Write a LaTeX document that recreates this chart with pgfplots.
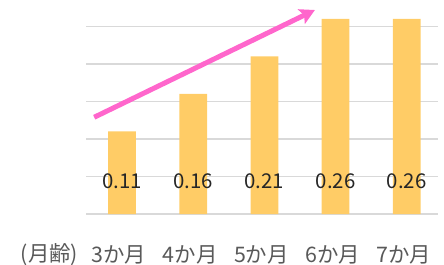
\documentclass[border=0pt]{standalone}
\usepackage{fontspec}
\usepackage{pgfplots}
\pgfplotsset{compat=1.18}
\usepackage{pgfplotstable}
\usetikzlibrary{arrows.meta}
\newfontfamily\jp{Noto Sans CJK JP}
\setmainfont{Noto Sans CJK JP}
\definecolor{barc}{HTML}{FFCC66}
\definecolor{arrowc}{HTML}{FF66CC}
\definecolor{gridc}{HTML}{D9D9D9}
\definecolor{labc}{HTML}{595959}
\pgfplotstableread{
x y
0 0.11
1 0.16
2 0.21
3 0.26
4 0.26
}\datatable
\begin{document}
\begin{tikzpicture}
\useasboundingbox (-86.4bp,-51bp) rectangle (357.6bp,214bp);
\begin{axis}[
  scale only axis,
  width=351.7bp, height=214bp,
  xmin=-0.5, xmax=4.44,
  ymin=0, ymax=0.28533,
  axis line style={draw=none},
  tick style={draw=none},
  ytick={0,0.05,0.1,0.15,0.2,0.25},
  yticklabels={},
  ymajorgrids,
  grid style={gridc, line width=1.2bp},
  xtick={0,1,2,3,4},
  xticklabels={3か月,4か月,5か月,6か月,7か月},
  xticklabel style={font=\jp\fontsize{21.5}{26}\selectfont, text=labc, xshift=-3bp, anchor=center, yshift=-40.5bp},
  /pgf/number format/assume math mode=true,
  clip=false,
]
\addplot[ybar, bar shift=0pt, bar width=0.39, fill=barc, draw=none] table[x=x, y=y]{\datatable};
\addplot[draw=none, mark=none,
  nodes near coords={\pgfmathprintnumber[fixed,precision=2,fixed zerofill,assume math mode=true]{\pgfplotspointmeta}},
  nodes near coords align={center},
  every node near coord/.append style={anchor=center, font=\jp\fontsize{20.5}{24}\selectfont, text=black!85},
  point meta={\thisrow{y}}] table[x=x, y expr=0.0431]{\datatable};
\draw[arrowc, line width=5bp, -{Stealth[length=15bp, width=16bp, inset=3bp]}] (axis cs:-0.39,0.129) -- (axis cs:2.71,0.272);
\node[font=\jp\fontsize{21.5}{26}\selectfont, text=labc, anchor=center] at (axis cs:-1.018,-0.054) {(月齢)};
\end{axis}
\end{tikzpicture}
\end{document}
